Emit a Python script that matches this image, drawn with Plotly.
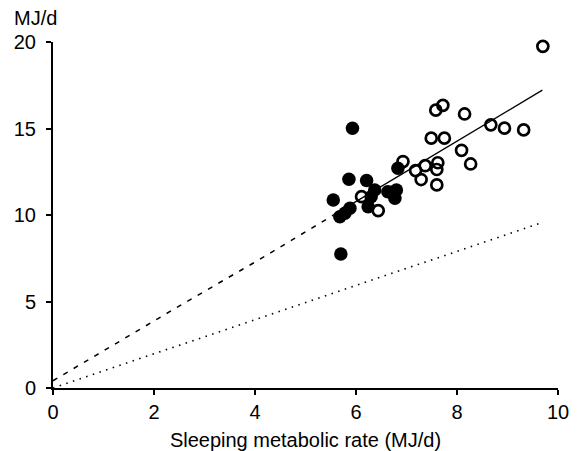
import plotly.graph_objects as go

# Open circles
open_x = [6.11, 6.44, 6.93, 7.18, 7.37, 7.62, 7.60, 7.29, 7.60, 7.49, 7.75, 7.58, 7.72, 8.15, 8.67, 8.94, 9.32, 8.09, 8.27, 9.70]
open_y = [11.06, 10.25, 13.09, 12.57, 12.85, 13.02, 12.63, 12.05, 11.74, 14.44, 14.44, 16.06, 16.34, 15.84, 15.21, 15.02, 14.92, 13.74, 12.95, 19.75]

# Filled circles
fill_x = [5.93, 5.86, 6.21, 5.55, 6.83, 6.37, 6.30, 6.24, 5.88, 5.78, 5.68, 6.63, 6.80, 6.77, 5.70]
fill_y = [15.02, 12.07, 11.99, 10.87, 12.70, 11.45, 11.06, 10.48, 10.39, 10.10, 9.90, 11.35, 11.45, 10.97, 7.74]

# Regression line (solid) and its extension (dashed)
solid_x = [5.55, 9.69]
solid_y = [9.99, 17.22]
dash_x = [0.0, 2.64, 4.09, 5.55]
dash_y = [0.42, 4.98, 7.43, 9.99]

# Dotted line
dot_x = [0.0, 9.7]
dot_y = [0.0, 9.58]

x_ticks = [0, 2, 4, 6, 8, 10]
y_ticks = [0, 5, 10, 15, 20]

FONT = "Liberation Sans, Arial, Helvetica, sans-serif"
FS = 20

fig = go.Figure()
fig.add_trace(go.Scatter(x=dot_x, y=dot_y, mode="lines",
                         line=dict(color="black", width=1.6, dash="1.5px,5.5px"),
                         showlegend=False, hoverinfo="skip"))
fig.add_trace(go.Scatter(x=dash_x, y=dash_y, mode="lines",
                         line=dict(color="black", width=1.5, dash="5px,7px"),
                         showlegend=False, hoverinfo="skip"))
fig.add_trace(go.Scatter(x=solid_x, y=solid_y, mode="lines",
                         line=dict(color="black", width=1.3),
                         showlegend=False, hoverinfo="skip"))
fig.add_trace(go.Scatter(x=open_x, y=open_y, mode="markers",
                         marker=dict(symbol="circle-open", size=11, color="black",
                                     line=dict(width=2.7, color="black")),
                         showlegend=False, cliponaxis=False))
fig.add_trace(go.Scatter(x=fill_x, y=fill_y, mode="markers",
                         marker=dict(symbol="circle", size=13.5, color="black",
                                     line=dict(width=0)),
                         showlegend=False, cliponaxis=False))

fig.update_layout(
    width=581, height=451,
    margin=dict(l=53, r=23, t=42, b=63),
    paper_bgcolor="white", plot_bgcolor="white",
    font=dict(family=FONT, size=FS, color="black"),
    showlegend=False,
    annotations=[dict(text="MJ/d", xref="paper", yref="paper", x=0, y=1,
                      xshift=-41, yshift=24, xanchor="left", yanchor="middle",
                      showarrow=False, font=dict(family=FONT, size=FS, color="black"))],
)
fig.update_xaxes(range=[0, 10], tickvals=x_ticks, showgrid=False, zeroline=False,
                 showline=True, linecolor="black", linewidth=2, automargin=False,
                 ticks="outside", ticklen=5, tickwidth=1.5, tickcolor="black",
                 tickfont=dict(family=FONT, size=FS),
                 title=dict(text="Sleeping metabolic rate (MJ/d)", standoff=12,
                            font=dict(family=FONT, size=FS)))
fig.update_yaxes(range=[0, 20], tickvals=y_ticks, showgrid=False, zeroline=False,
                 showline=True, linecolor="black", linewidth=2, automargin=False,
                 ticks="outside", ticklen=5, tickwidth=1.5, tickcolor="black",
                 tickfont=dict(family=FONT, size=FS),
                 ticklabelstandoff=6)

fig.write_html("out.html", config={"displayModeBar": False},
               post_script="document.body.style.margin='0';document.body.style.padding='0';")
